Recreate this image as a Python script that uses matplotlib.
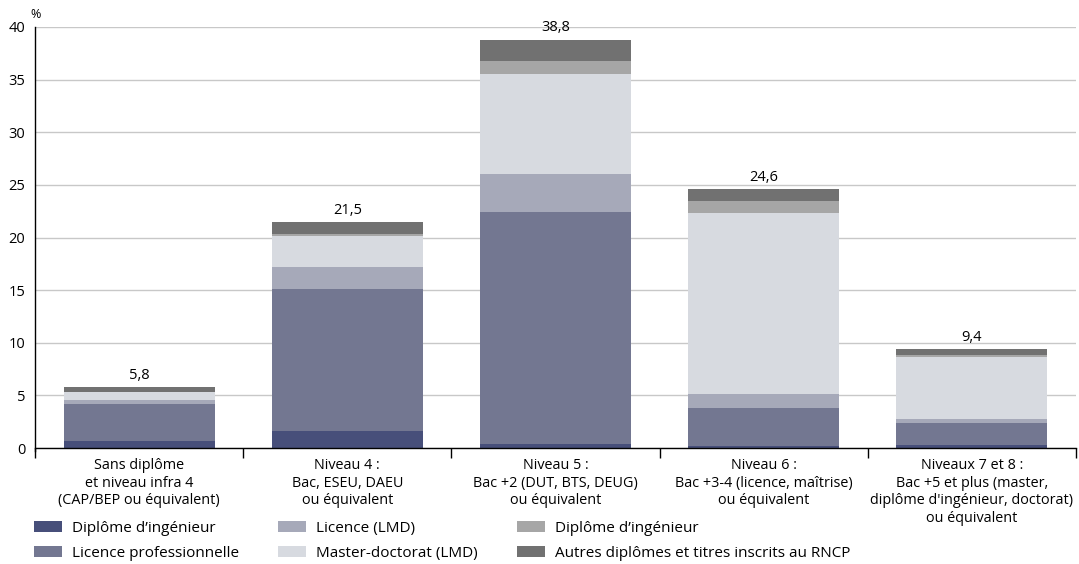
import matplotlib.pyplot as plt
import numpy as np

plt.rcParams['font.family'] = ['Open Sans', 'DejaVu Sans']

# Catégories (niveau de diplôme) et séries empilées (%)
categories = [
    "Sans diplôme\net niveau infra 4\n(CAP/BEP ou équivalent)",
    "Niveau 4 :\nBac, ESEU, DAEU\nou équivalent",
    "Niveau 5 :\nBac +2 (DUT, BTS, DEUG)\nou équivalent",
    "Niveau 6 :\nBac +3-4 (licence, maîtrise)\nou équivalent",
    "Niveaux 7 et 8 :\nBac +5 et plus (master,\ndiplôme d'ingénieur, doctorat)\nou équivalent",
]
ingenieur = [0.7, 1.6, 0.4, 0.2, 0.3]
licence_pro = [3.5, 13.5, 22.0, 3.6, 2.1]
licence_lmd = [0.4, 2.1, 3.6, 1.3, 0.4]
master_doctorat = [0.7, 2.9, 9.5, 17.2, 5.8]
ingenieur_2 = [0.0, 0.2, 1.3, 1.2, 0.2]
autres_rncp = [0.5, 1.2, 2.0, 1.1, 0.6]
totals = [5.8, 21.5, 38.8, 24.6, 9.4]

series = [
    ("Diplôme d’ingénieur", ingenieur, "#474f7a"),
    ("Licence professionnelle", licence_pro, "#737791"),
    ("Licence (LMD)", licence_lmd, "#a6a9b9"),
    ("Master-doctorat (LMD)", master_doctorat, "#d7dae0"),
    ("Diplôme d’ingénieur", ingenieur_2, "#a6a6a6"),
    ("Autres diplômes et titres inscrits au RNCP", autres_rncp, "#717171"),
]

fig = plt.figure(figsize=(10.79, 5.64), dpi=100)
ax = fig.add_axes([35 / 1079, 1 - 448 / 564, 1041 / 1079, 421 / 564])

x = np.arange(len(categories))
bottom = np.zeros(len(categories))
for label, vals, color in series:
    ax.bar(x, vals, width=0.725, bottom=bottom, color=color, label=label, zorder=3)
    bottom += np.array(vals)

for xi, t in zip(x, totals):
    ax.annotate(f"{t:.1f}".replace(".", ","), (xi, t), xytext=(0, 3),
                textcoords="offset points", ha="center", va="bottom", fontsize=10.5)

ax.set_xlim(-0.5, len(categories) - 0.5)
ax.set_ylim(0, 40)
ax.set_yticks(np.arange(0, 41, 5))
ax.tick_params(axis="y", length=0, pad=7, labelsize=10.5)
ax.grid(axis="y", color="#c8c8c8", lw=1, zorder=0)

# ticks de séparation entre catégories, libellés au centre
ax.set_xticks(np.arange(-0.5, len(categories), 1.0))
ax.set_xticklabels([])
ax.tick_params(axis="x", which="major", length=7.5, width=1, color="black")
ax.set_xticks(x, minor=True)
ax.set_xticklabels(categories, minor=True, fontsize=10.4, linespacing=1.22)
ax.tick_params(axis="x", which="minor", length=0, pad=7.5)

for s in ["top", "right"]:
    ax.spines[s].set_visible(False)
ax.spines["left"].set_bounds(-0.25, 40)
ax.spines["left"].set_linewidth(1)
ax.spines["bottom"].set_linewidth(1)
ax.spines["bottom"].set_zorder(4)

fig.text(30 / 1079, 1 - 15 / 564, "%", fontsize=9, ha="left", va="center")

fig.legend(loc="upper left", bbox_to_anchor=(34 / 1079, 1 - 521 / 564), ncol=3,
           frameon=False, fontsize=11, handlelength=1.8, handleheight=0.7,
           handletextpad=0.7, columnspacing=2.55, labelspacing=0.65,
           borderpad=0, borderaxespad=0)

fig.savefig("out.png", dpi=100)
